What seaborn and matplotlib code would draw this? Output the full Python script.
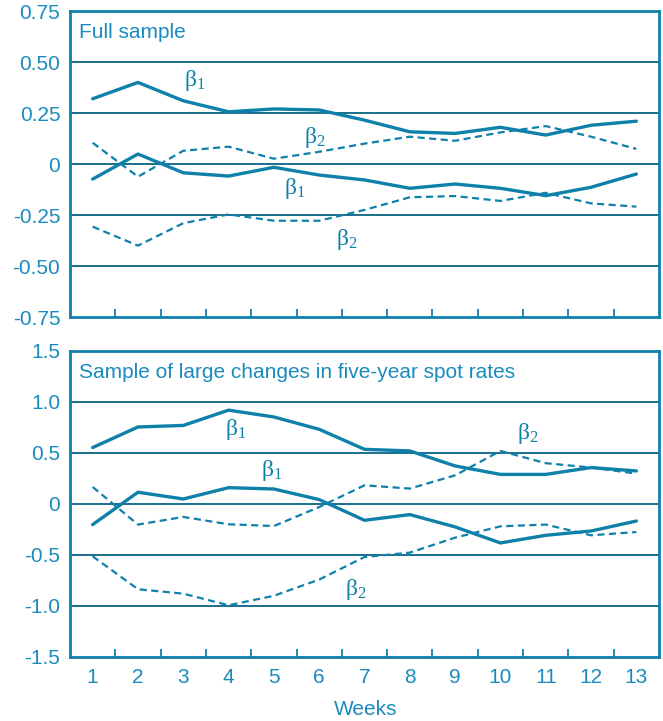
import numpy as np
import pandas as pd
import seaborn as sns
import matplotlib
matplotlib.use("Agg")
from matplotlib import pyplot as plt

sns.set_theme(style="white")
plt.rcParams['font.family'] = ['Liberation Sans', 'DejaVu Sans']

# weeks after the change
weeks = list(range(1, 14))

# full sample
full_b1_hi = [0.32, 0.40, 0.31, 0.256, 0.27, 0.265, 0.215, 0.158, 0.15, 0.18, 0.142, 0.19, 0.21]
full_b2_hi = [0.104, -0.062, 0.065, 0.085, 0.026, 0.06, 0.10, 0.134, 0.114, 0.155, 0.186, 0.134, 0.074]
full_b1_lo = [-0.074, 0.049, -0.043, -0.059, -0.016, -0.054, -0.078, -0.119, -0.098, -0.119, -0.155, -0.114, -0.049]
full_b2_lo = [-0.307, -0.40, -0.29, -0.247, -0.278, -0.278, -0.225, -0.163, -0.157, -0.181, -0.141, -0.193, -0.209]

# sample of large changes
large_b1_hi = [0.553, 0.755, 0.77, 0.92, 0.853, 0.732, 0.536, 0.52, 0.373, 0.29, 0.29, 0.357, 0.324]
large_b2_hi = [0.167, -0.202, -0.127, -0.199, -0.216, -0.03, 0.183, 0.151, 0.281, 0.52, 0.40, 0.357, 0.298]
large_b1_lo = [-0.202, 0.115, 0.049, 0.16, 0.147, 0.043, -0.16, -0.104, -0.225, -0.382, -0.307, -0.265, -0.167]
large_b2_lo = [-0.513, -0.836, -0.879, -0.993, -0.90, -0.741, -0.52, -0.477, -0.33, -0.219, -0.202, -0.307, -0.275]

panel_titles = ["Full sample", "Sample of large changes in five-year spot rates"]
top_ticks = [-0.75, -0.5, -0.25, 0, 0.25, 0.5, 0.75]
top_ticklabels = ["-0.75", "-0.50", "-0.25", "0", "0.25", "0.50", "0.75"]
bot_ticks = [-1.5, -1.0, -0.5, 0, 0.5, 1.0, 1.5]
bot_ticklabels = ["-1.5", "-1.0", "-0.5", "0", "0.5", "1.0", "1.5"]

# label positions (week, value, subscript)
top_labels = [(3.25, 0.41, "1"), (5.9, 0.13, "2"), (5.45, -0.12, "1"), (6.6, -0.37, "2")]
bot_labels = [(4.15, 0.73, "1"), (4.95, 0.33, "1"), (10.6, 0.69, "2"), (6.8, -0.84, "2")]

line_c = "#0f80aa"
grid_c = "#1a6f8c"
text_c = "#1a8bbd"
fs = 15


def make_df(b1_hi, b2_hi, b1_lo, b2_lo):
    rows = []
    for name, vals, style in [("b1_hi", b1_hi, "solid"), ("b2_hi", b2_hi, "dash"),
                              ("b1_lo", b1_lo, "solid"), ("b2_lo", b2_lo, "dash")]:
        for w, v in zip(weeks, vals):
            rows.append(dict(week=w, value=v, series=name, kind=style))
    return pd.DataFrame(rows)


fig = plt.figure(figsize=(6.63, 7.21), dpi=100)
ax1 = fig.add_axes([0.1056, 0.5603, 0.8884, 0.4244])
ax2 = fig.add_axes([0.1056, 0.0888, 0.8884, 0.4244])

panels = [
    (ax1, make_df(full_b1_hi, full_b2_hi, full_b1_lo, full_b2_lo), top_ticks, top_ticklabels, top_labels, 0),
    (ax2, make_df(large_b1_hi, large_b2_hi, large_b1_lo, large_b2_lo), bot_ticks, bot_ticklabels, bot_labels, 1),
]

for ax, df, ticks, ticklabels, labels, i in panels:
    for name, sub in df.groupby("series"):
        dashed = sub["kind"].iloc[0] == "dash"
        sns.lineplot(data=sub, x="week", y="value", ax=ax, color=line_c,
                     lw=1.6 if dashed else 2.4,
                     linestyle=(0, (3.2, 2.0)) if dashed else "-",
                     legend=False)
    ax.set_xlim(0.5, 13.5)
    ax.set_ylim(ticks[0], ticks[-1])
    for t in ticks[1:-1]:
        ax.axhline(t, color=grid_c, lw=1.4, zorder=0)
    ax.set_yticks(ticks)
    ax.set_yticklabels(ticklabels)
    ax.set_xticks(np.arange(1.5, 13, 1.0))
    ax.set_xticklabels([])
    ax.tick_params(axis="x", direction="in", length=6, width=1.3, color=line_c, bottom=True)
    ax.tick_params(axis="y", length=0, labelsize=fs, labelcolor=text_c, pad=7)
    for s in ax.spines.values():
        s.set_color(line_c)
        s.set_linewidth(2.0)
    ax.set_xlabel("")
    ax.set_ylabel("")
    ax.text(0.015, 0.96, panel_titles[i], transform=ax.transAxes, ha="left", va="top",
            fontsize=fs, color=text_c)
    for x, y, sub in labels:
        ax.text(x, y, r"$\mathregular{\beta_%s}$" % sub, fontsize=17, color=line_c,
                family=["Liberation Serif", "DejaVu Serif"], ha="center", va="center")

# week labels under the lower panel
for w in weeks:
    ax2.text(w, -1.7, str(w), ha="center", va="center",
             fontsize=fs, color=text_c, clip_on=False)
fig.text(0.551, 0.003, "Weeks", ha="center", va="bottom", fontsize=fs, color=text_c)

fig.savefig("out.png", dpi=100)
